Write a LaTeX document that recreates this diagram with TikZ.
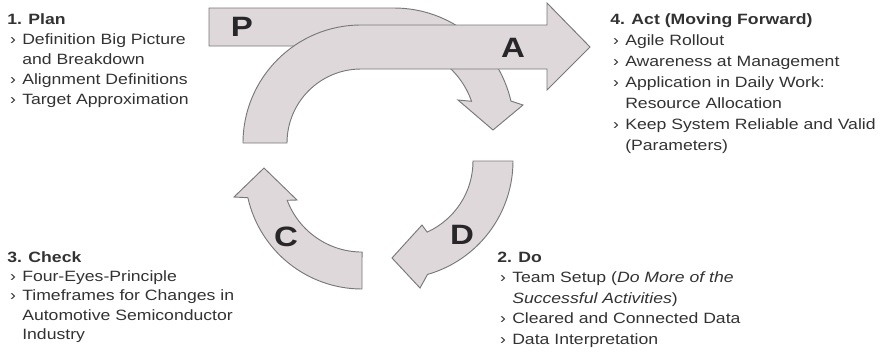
\documentclass[tikz,border=0pt]{standalone}
\usepackage{fontspec}
\setmainfont{Liberation Sans}[FakeStretch=1.18]
\definecolor{arrfill}{RGB}{222,216,219}
\definecolor{arredge}{RGB}{120,120,120}
\definecolor{txtc}{RGB}{50,50,50}
\definecolor{letc}{RGB}{40,38,40}
\tikzset{
  arrowshape/.style={fill=arrfill,draw=arredge,line width=0.7pt,line join=miter},
  bigletter/.style={font=\fontsize{21}{21}\selectfont\bfseries,text=letc,inner sep=0pt},
  txtblock/.style={font=\fontsize{11.2}{#1}\selectfont,text=txtc,inner sep=0pt,anchor=base west},
  txtblock/.default=15pt
}
\newcommand{\bul}{\makebox[11.25pt][l]{\hspace{2.2pt}›}}
\newcommand{\cnt}{\hspace{11.25pt}}
\begin{document}
\begin{tikzpicture}[x=0.75pt,y=-0.75pt]
\useasboundingbox (0,0) rectangle (884,354);
% P arrow
\path[arrowshape] (209,8) -- (394,8) arc[start angle=270,end angle=347,radius=120]
  -- (523,105) -- (493,130) -- (458,100) -- (471.5,101.3)
  arc[start angle=341,end angle=270,radius=82] -- (209,46) -- cycle;
% A arrow
\path[arrowshape] (243,143) arc[start angle=180,end angle=270,radius=118]
  -- (547,25) -- (547,3) -- (590,47) -- (547,90) -- (547,69) -- (361,69)
  arc[start angle=270,end angle=180,radius=74] -- cycle;
% C arrow
\path[arrowshape] (362,289) arc[start angle=90,end angle=167.3,radius=117]
  -- (234,197) -- (264,168) -- (297,200) -- (287.2,200.3)
  arc[start angle=159.3,end angle=90,radius=80] -- cycle;
% D arrow
\path[arrowshape] (513,161) arc[start angle=0,end angle=74,radius=118]
  -- (420,288) -- (392,258) -- (422,225) -- (427.1,232.1)
  arc[start angle=65.7,end angle=0,radius=78] -- cycle;
% letters
\node[bigletter] (lp) at (242,27) {P};
\node[bigletter] (la) at (513,48) {A};
\node[bigletter] (lc) at (286,237) {C};
\node[bigletter] (ld) at (462,235) {D};
% text blocks
\node[txtblock=15pt] (plan) at (7,24) {\vtop{%
  \hbox{\bfseries 1. Plan}%
  \hbox{\bul Definition Big Picture}%
  \hbox{\cnt and Breakdown}%
  \hbox{\bul Alignment Definitions}%
  \hbox{\bul Target Approximation}}};
\node[txtblock=15.75pt] (act) at (610,24) {\vtop{%
  \hbox{\bfseries 4. Act (Moving Forward)}%
  \hbox{\bul Agile Rollout}%
  \hbox{\bul Awareness at Management}%
  \hbox{\bul Application in Daily Work:}%
  \hbox{\cnt Resource Allocation}%
  \hbox{\bul Keep System Reliable and Valid}%
  \hbox{\cnt (Parameters)}}};
\node[txtblock=14.6pt] (check) at (7,262) {\vtop{%
  \hbox{\bfseries 3. Check}%
  \hbox{\bul Four-Eyes-Principle}%
  \hbox{\bul Timeframes for Changes in}%
  \hbox{\cnt Automotive Semiconductor}%
  \hbox{\cnt Industry}}};
\node[txtblock=15.4pt] (do) at (497,262) {\vtop{%
  \hbox{\bfseries 2. Do}%
  \hbox{\bul Team Setup (\textit{Do More of the}}%
  \hbox{\cnt \textit{Successful Activities})}%
  \hbox{\bul Cleared and Connected Data}%
  \hbox{\bul Data Interpretation}}};
\end{tikzpicture}
\end{document}
